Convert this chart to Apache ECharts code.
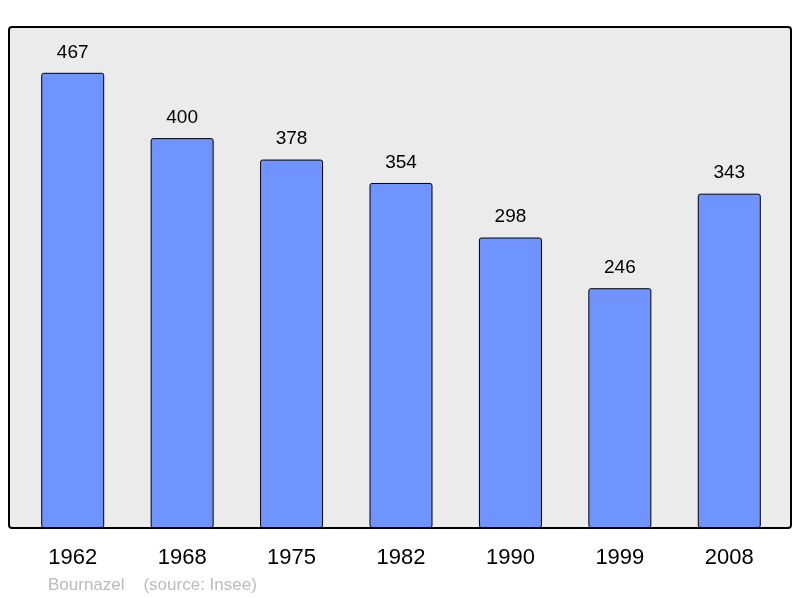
<!DOCTYPE html>
<html>
<head>
<meta charset="utf-8">
<script src="https://cdn.jsdelivr.net/npm/echarts@6/dist/echarts.min.js"></script>
<style>
  html, body { margin: 0; padding: 0; background: #fff; }
  #chart { width: 800px; height: 598px; }
</style>
</head>
<body>
<div id="chart"></div>
<script>
// Population data
const years = ['1962', '1968', '1975', '1982', '1990', '1999', '2008'];
const population = [467, 400, 378, 354, 298, 246, 343];

const chart = echarts.init(document.getElementById('chart'));

const option = {
    animation: false,
    title: {
        text: 'Bournazel    (source: Insee)',
        left: 43,
        top: 572,
        textStyle: { color: '#bbbbbb', fontSize: 17, fontWeight: 'normal', fontFamily: 'Liberation Sans' }
    },
    grid: { left: 18, right: 16, top: 27, bottom: 70 },
    graphic: [
        {
            type: 'rect',
            z: -10,
            shape: { x: 9, y: 27, width: 782, height: 501, r: 3 },
            style: { fill: '#ebebeb' }
        },
        {
            type: 'rect',
            z: 100,
            shape: { x: 9, y: 27, width: 782, height: 501, r: 3 },
            style: { fill: null, stroke: '#000', lineWidth: 2 }
        }
    ],
    xAxis: {
        type: 'category',
        data: years,
        axisLine: { show: false },
        axisTick: { show: false },
        axisLabel: { fontSize: 22, color: '#000', margin: 19, fontFamily: 'Liberation Sans' }
    },
    yAxis: {
        type: 'value',
        min: 0,
        max: 514,
        show: false
    },
    series: [
        {
            type: 'bar',
            data: population,
            barWidth: 63,
            itemStyle: { color: '#7094ff', borderColor: '#000', borderWidth: 1, borderRadius: 2 },
            label: {
                show: true,
                position: 'top',
                distance: 11,
                fontSize: 19,
                color: '#000',
                fontFamily: 'Liberation Sans'
            }
        }
    ]
};

chart.setOption(option);
</script>
</body>
</html>
